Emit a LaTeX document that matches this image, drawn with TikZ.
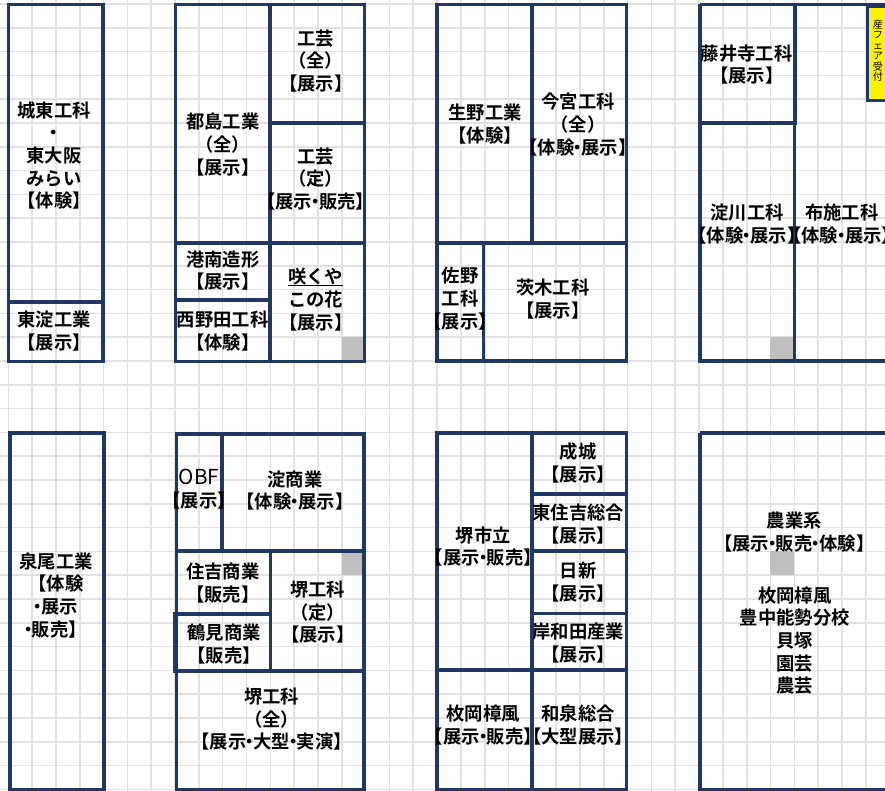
\documentclass[tikz,border=0pt]{standalone}
\usepackage{fontspec}
\setmainfont{Noto Sans CJK JP}[BoldFont={Noto Sans CJK JP Bold}]
\newcommand{\nd}{\makebox[5.2pt][c]{・}}
\definecolor{wallblue}{HTML}{1F3864}
\definecolor{gridgrey}{HTML}{E2E2E2}
\definecolor{markgrey}{HTML}{BFBFBF}
\tikzset{
  wall/.style={draw=wallblue,line width=2.3pt,line join=miter},
  thickwall/.style={draw=wallblue,line width=3pt},
  gridline/.style={draw=gridgrey,line width=1.2pt},
  greymark/.style={fill=markgrey,draw=none},
  lab/.style={align=center,inner sep=0pt,text=black,font=\bfseries\fontsize{13.75}{17}\selectfont},
  smalllab/.style={align=center,inner sep=0pt,text=black,font=\fontsize{7.6}{7.9}\selectfont},
}
\begin{document}
\begin{tikzpicture}[x=0.75pt,y=-0.75pt]
\clip (0,0) rectangle (885,791);
\fill[white] (0,0) rectangle (885,791);
% grid
\foreach \n in {0,...,37}{\draw[gridline] ({8.3+23.82*\n},0) -- ({8.3+23.82*\n},791);}
\foreach \n in {0,...,33}{\draw[gridline] (0,{4+23.8*\n}) -- (885,{4+23.8*\n});}
% grey marks
\path[greymark] (342,337) rectangle (363,360);
\path[greymark] (770,337) rectangle (793,360);
\path[greymark] (342,553) rectangle (363,575);
\path[greymark] (770,551) rectangle (794,575);
% block 1
\draw[wall] (8.5,4.5) rectangle (103,361.5);
\draw[wall] (8.5,302) -- (103,302);
% block 2
\draw[wall] (175.5,4.5) rectangle (364.5,361.5);
\draw[thickwall] (270,4.5) -- (270,361.5);
\draw[wall] (270,123) -- (364.5,123);
\draw[wall] (175.5,243) -- (364.5,243);
\draw[thickwall] (175.5,300) -- (270,300);
% block 3
\draw[wall] (437,4.5) rectangle (626.5,361);
\draw[thickwall] (531.7,4.5) -- (531.7,243);
\draw[wall] (437,243) -- (626.5,243);
\draw[wall] (483.5,243) -- (483.5,361);
% block 4
\draw[wall] (700,4.5) -- (890,4.5);
\draw[wall] (700,4.5) -- (700,361) -- (890,361);
\draw[thickwall] (794.5,4.5) -- (794.5,125);
\draw[wall] (794.5,125) -- (794.5,361);
\draw[thickwall] (700,123.5) -- (796.5,123.5);
\node[draw=wallblue,line width=2.3pt,fill=yellow,minimum width=26pt,minimum height=71pt,inner sep=0pt,anchor=north west] (sanfe) at (866,4.5) {};
\node[smalllab] (uketsuke) at (878,50.5) {産\\フ\\ェ\\ア\\受\\付};
% block 5
\draw[wall] (10,433) rectangle (104,790);
% block 6
\draw[wall] (176.5,434) rectangle (364,790);
\draw[thickwall] (222.3,434) -- (222.3,551);
\draw[wall] (176.5,551) -- (364,551);
\draw[wall] (270.3,551) -- (270.3,671);
\draw[thickwall] (174.5,613.5) -- (270.3,613.5);
\draw[wall] (174.5,612) -- (174.5,672.5);
\draw[wall] (174.5,671) -- (364,671);
% block 7
\draw[wall] (437,433) rectangle (626.5,790);
\draw[thickwall] (531.7,433) -- (531.7,790);
\draw[wall] (437,670) -- (626.5,670);
\draw[wall] (531.7,494) -- (626.5,494);
\draw[wall] (531.7,551) -- (626.5,551);
\draw[wall] (531.7,613.5) -- (626.5,613.5);
% block 8
\draw[wall] (700,433) -- (890,433);
\draw[wall] (700,433) -- (700,790) -- (890,790);
% labels
\node[lab] (joto) at (54,155.5) {城東工科\\・\\東大阪\\みらい\\【体験】};
\node[lab] (higashiyodo) at (54,331) {東淀工業\\【展示】};
\node[lab] (miyakojima) at (222.7,144.5) {都島工業\\（全）\\【展示】};
\node[lab] (kogeizen) at (315.7,61) {工芸\\（全）\\【展示】};
\node[lab] (kogeitei) at (315.7,179) {工芸\\（定）\\【展示\nd 販売】};
\node[lab] (konan) at (222.7,270.5) {港南造形\\【展示】};
\node[lab] (nishinoda) at (222.7,331) {西野田工科\\【体験】};
\node[lab] (sakuya) at (315.7,299.5) {\underline{\raisebox{0pt}[\height][0pt]{咲くや}}\\この花\\【展示】};
\node[lab] (ikuno) at (485,124) {生野工業\\【体験】};
\node[lab] (imamiya) at (578,124.5) {今宮工科\\（全）\\【体験\nd 展示】};
\node[lab] (sano) at (460,298.5) {佐野\\工科\\【展示】};
\node[lab] (ibaraki) at (552.7,299) {茨木工科\\【展示】};
\node[lab] (fujiidera) at (746.7,64.5) {藤井寺工科\\【展示】};
\node[lab] (yodogawa) at (747,224) {淀川工科\\【体験\nd 展示】};
\node[lab] (fuse) at (841.7,224) {布施工科\\【体験\nd 展示】};
\node[lab] (izuo) at (56,595.3) {泉尾工業\\【体験\\\nd 展示\\\nd 販売】};
\node[lab] (obf) at (199,489) {{\fontsize{15.5}{17}\selectfont\mdseries OBF}\\【展示】};
\node[lab] (yodosho) at (295,490.5) {淀商業\\【体験\nd 展示】};
\node[lab] (sumiyoshi) at (222.7,583) {住吉商業\\【販売】};
\node[lab] (tsurumi) at (224,644) {鶴見商業\\【販売】};
\node[lab] (sakaitei) at (317.7,612.3) {堺工科\\（定）\\【展示】};
\node[lab] (sakaizen) at (271.7,719.3) {堺工科\\（全）\\【展示\nd 大型\nd 実演】};
\node[lab] (sakaishi) at (483.3,546.5) {堺市立\\【展示\nd 販売】};
\node[lab] (joseki) at (578.3,463) {成城\\【展示】};
\node[lab] (higashisumi) at (578.3,524) {東住吉総合\\【展示】};
\node[lab] (nisshin) at (578.3,582) {日新\\【展示】};
\node[lab] (kishiwada) at (578.3,643) {岸和田産業\\【展示】};
\node[lab] (hiraoka) at (483.3,725) {枚岡樟風\\【展示\nd 販売】};
\node[lab] (izumi) at (578,725) {和泉総合\\【大型展示】};
\node[lab] (nogyo) at (794.3,532.3) {農業系\\【展示\nd 販売\nd 体験】};
\node[lab] (nogyolist) at (794.7,640.7) {枚岡樟風\\豊中能勢分校\\貝塚\\園芸\\農芸};
\end{tikzpicture}
\end{document}
